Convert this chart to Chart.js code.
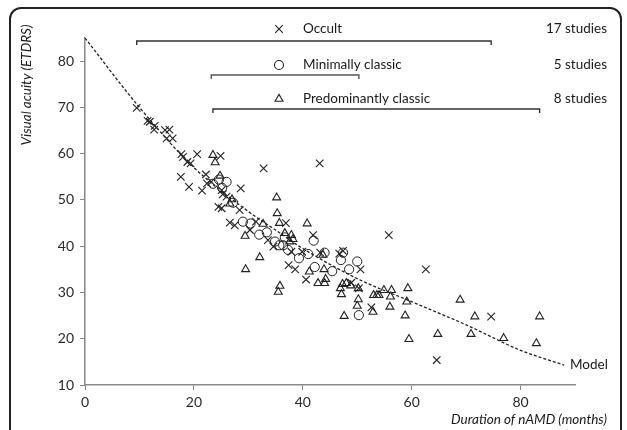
<!DOCTYPE html>
<html><head><meta charset="utf-8">
<script src="https://cdn.jsdelivr.net/npm/chart.js@4/dist/chart.umd.min.js"></script>
<style>
html,body{margin:0;padding:0;background:#fff;overflow:hidden;}
#wrap{position:relative;width:627px;height:430px;}
#frame{position:absolute;left:9px;top:7px;width:613px;height:520px;border:2px solid #222;border-radius:12px;box-sizing:border-box;}
canvas{position:absolute;left:0;top:0;}
</style></head>
<body><div id="wrap"><div id="frame"></div><canvas id="c" width="627" height="430"></canvas></div>
<script>
// Occult (x markers): [months, ETDRS]
const occult = [
[9.5,69.9],[11.5,67.1],[11.9,66.9],[12.8,66.0],[12.7,65.2],[14.7,65.1],[15.5,65.2],[15.0,63.3],[16.1,63.3],
[17.7,59.9],[18.0,59.3],[18.8,58.2],[19.4,57.9],[20.6,59.9],[17.6,55.0],[19.1,52.8],[21.5,52.0],[22.2,55.5],
[22.4,53.6],[24.9,59.5],[32.8,56.8],[23.2,53.9],[25.1,52.1],[25.3,51.2],[28.6,52.5],[26.0,50.7],[24.5,48.5],
[25.1,48.2],[28.4,47.8],[26.6,45.1],[27.5,44.5],[31.4,45.3],[30.3,43.5],[33.6,41.3],[34.6,39.9],[36.9,45.0],
[37.4,35.9],[38.6,35.0],[37.9,38.8],[39.9,38.8],[40.6,32.8],[41.9,42.4],[43.2,38.6],[46.7,38.4],[43.1,57.9],
[55.8,42.4],[62.6,35.0],[74.6,24.8],[64.6,15.4],[50.6,35.0],[52.6,26.8],[48.9,32.1],[50.3,30.9],[47.4,39.0]
];
// Minimally classic (circles)
const minClassic = [
[23.5,53.5],[24.6,54.4],[26.0,53.9],[25.2,52.6],[27.2,49.4],[29.0,45.3],[30.4,44.9],[32.0,42.5],[33.4,43.0],
[34.9,41.0],[35.7,40.2],[36.4,40.2],[37.3,39.2],[36.7,41.9],[39.3,37.4],[41.0,38.3],[42.0,41.2],[44.0,38.6],
[47.4,38.6],[47.0,37.0],[50.0,36.7],[48.5,35.0],[42.2,35.5],[45.4,34.6],[50.3,25.1]
];
// Predominantly classic (triangles)
const predClassic = [
[23.5,59.7],[23.9,58.1],[24.8,55.2],[26.6,49.2],[27.0,50.1],[35.2,50.5],[35.3,47.1],[35.7,45.0],[32.7,44.8],
[29.4,42.2],[29.5,35.0],[32.1,37.6],[35.8,31.4],[35.5,30.1],[40.8,44.9],[36.7,42.8],[37.9,42.4],[38.2,41.5],
[37.6,41.0],[43.7,38.1],[41.2,34.5],[42.8,32.0],[44.0,32.0],[43.9,35.0],[44.2,32.9],[46.9,30.9],[47.1,29.6],
[47.6,24.9],[48.0,32.0],[48.8,31.5],[50.2,30.9],[50.2,28.5],[50.0,27.1],[52.9,25.8],[53.0,29.4],[53.6,29.4],
[54.0,29.4],[54.9,30.5],[56.3,30.5],[56.1,29.1],[56.0,26.9],[59.3,30.9],[59.1,28.0],[58.8,25.0],[59.5,19.9],
[64.8,21.0],[68.9,28.4],[71.6,24.8],[70.9,21.0],[76.9,20.1],[83.5,24.8],[82.9,19.0],[47.3,31.8]
];
// Model curve
const modelX = [0,10,20,30,35,40,50,60,70,80,88];
const modelY = [85,70,57,47.5,43.5,39.5,33,28,23,17.5,14.3];
// Legend groups
const groupNames = ["Occult","Minimally classic","Predominantly classic"];
const groupStudies = ["17 studies","5 studies","8 studies"];
const groupRanges = [[9.5,74.6],[23.2,50.3],[23.5,83.5]];
const xTicks = [0,20,40,60,80];
const yTicks = [10,20,30,40,50,60,70,80];
const xTitle = "Duration of nAMD (months)";
const yTitle = "Visual acuity (ETDRS)";
const modelLabel = "Model";

const FONT = "Lato";
const toPts = a => a.map(p => ({x:p[0], y:p[1]}));

function marker(ctx, style, x, y){
  ctx.save(); ctx.strokeStyle='#222'; ctx.lineWidth=1.1; ctx.beginPath();
  if(style==='crossRot'){ const r=3.8; ctx.moveTo(x-r,y-r);ctx.lineTo(x+r,y+r);ctx.moveTo(x+r,y-r);ctx.lineTo(x-r,y+r); }
  else if(style==='circle'){ ctx.arc(x,y,4.5,0,Math.PI*2); }
  else { const r=4.6; ctx.moveTo(x,y-r);ctx.lineTo(x+r*0.87,y+r*0.5);ctx.lineTo(x-r*0.87,y+r*0.5);ctx.closePath(); }
  ctx.stroke(); ctx.restore();
}

const annot = {
  id:'annot',
  afterDraw(chart){
    const ctx=chart.ctx, xs=chart.scales.x;
    const styles=['crossRot','circle','triangle'];
    const rowY=[29,65,99], brY=[41,75,109];
    ctx.save();
    ctx.font = `13.5px ${FONT}`; ctx.fillStyle='#1a1a1a'; ctx.textBaseline='middle';
    for(let i=0;i<3;i++){
      marker(ctx, styles[i], 279, rowY[i]);
      ctx.textAlign='left'; ctx.fillText(groupNames[i], 303, rowY[i]);
      ctx.textAlign='right'; ctx.fillText(groupStudies[i], 607, rowY[i]);
      const a=xs.getPixelForValue(groupRanges[i][0]), b=xs.getPixelForValue(groupRanges[i][1]);
      ctx.strokeStyle= i===1 ? '#555' : '#333'; ctx.lineWidth=1.4;
      ctx.beginPath(); ctx.moveTo(a,brY[i]+4); ctx.lineTo(a,brY[i]); ctx.lineTo(b,brY[i]); ctx.lineTo(b,brY[i]+4); ctx.stroke();
    }
    ctx.textAlign='left'; ctx.fillText(modelLabel, 570, 365);
    ctx.font = `italic 13.5px ${FONT}`;
    ctx.textAlign='right'; ctx.fillText(xTitle, 607, 420);
    ctx.translate(27,85); ctx.rotate(-Math.PI/2); ctx.textAlign='center'; ctx.fillText(yTitle,0,0);
    ctx.restore();
  }
};

new Chart(document.getElementById('c'), {
  type:'scatter',
  data:{datasets:[
    {label:'Occult', data:toPts(occult), pointStyle:'crossRot', pointRadius:5.3, borderColor:'#222', backgroundColor:'transparent', borderWidth:1.1},
    {label:'Minimally classic', data:toPts(minClassic), pointStyle:'circle', pointRadius:4.6, borderColor:'#222', backgroundColor:'transparent', borderWidth:1},
    {label:'Predominantly classic', data:toPts(predClassic), pointStyle:'triangle', pointRadius:4.6, borderColor:'#222', backgroundColor:'transparent', borderWidth:1.1},
    {type:'line', label:'Model', data:modelX.map((x,i)=>({x, y:modelY[i]})), showLine:true, pointRadius:0, borderColor:'#222', borderWidth:1.3, borderDash:[3,2], cubicInterpolationMode:'monotone', fill:false}
  ]},
  options:{
    responsive:false, animation:false,
    layout:{padding:{top:38,right:52,left:0,bottom:0}},
    plugins:{legend:{display:false}, tooltip:{enabled:false}},
    scales:{
      x:{type:'linear', min:0, max:90,
        afterBuildTicks:s=>{s.ticks=xTicks.map(v=>({value:v}));},
        afterFit:s=>{s.height=45;},
        grid:{display:true, drawOnChartArea:false, drawTicks:true, tickLength:5, color:'#888'},
        border:{display:true, color:'#888', width:1.5},
        ticks:{color:'#2a2a2a', font:{family:FONT, size:14}, padding:4, maxRotation:0}},
      y:{type:'linear', min:10, max:85,
        afterBuildTicks:s=>{s.ticks=yTicks.map(v=>({value:v}));},
        afterFit:s=>{s.width=85;},
        grid:{display:true, drawOnChartArea:false, drawTicks:true, tickLength:5, color:'#888'},
        border:{display:true, color:'#888', width:1.5},
        ticks:{color:'#2a2a2a', font:{family:FONT, size:14}, padding:6}}
    }
  },
  plugins:[annot]
});
</script></body></html>
